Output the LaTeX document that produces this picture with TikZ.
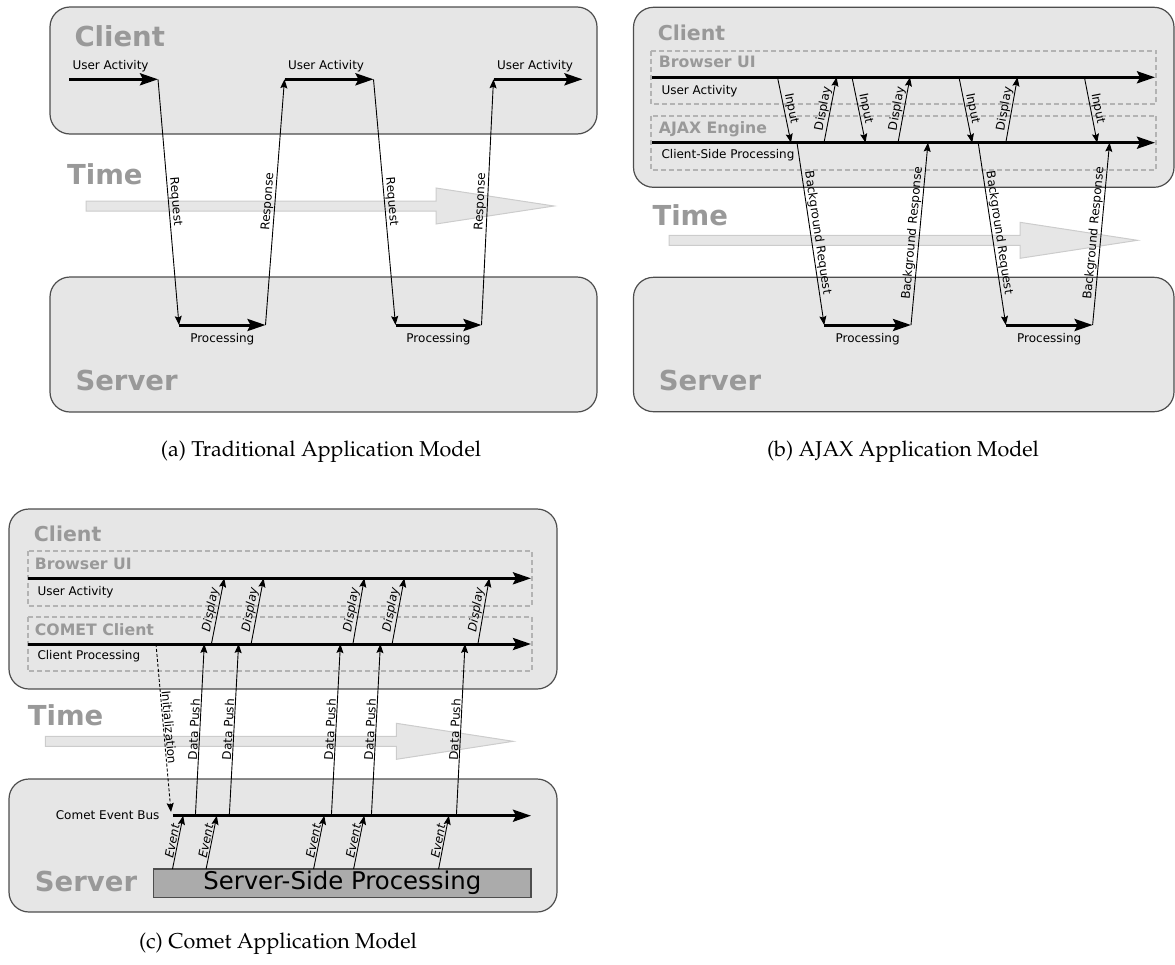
\documentclass[tikz,border=0pt]{standalone}
\usepackage[T1]{fontenc}
\usepackage{fontspec}
\setsansfont{DejaVu Sans}
\usetikzlibrary{arrows.meta}

\definecolor{boxfill}{HTML}{E6E6E6}
\definecolor{boxline}{HTML}{4D4D4D}
\definecolor{titlegray}{HTML}{999999}
\definecolor{lanegray}{HTML}{B3B3B3}
\definecolor{timeline}{HTML}{CCCCCC}
\definecolor{sspfill}{HTML}{ABABAB}
\newcommand{\setfs}[1]{\fontsize{#1}{#1}\selectfont}
\newcommand{\capfont}{\fontencoding{T1}\fontfamily{ppl}\selectfont}

\begin{document}
\begin{tikzpicture}[x=1pt, y=-1pt,
   tierbox/.style={draw=boxline, fill=boxfill, line width=1.2pt, rounded corners=20pt},
   lanebox/.style={draw=lanegray, line width=2pt, dash pattern=on 5pt off 3pt},
   timearrow/.style={draw=timeline, fill=boxfill, line width=1pt},
   flowarrow/.style={line width=3pt, -{Stealth[length=18pt, width=12pt, inset=3pt]}},
   msgarrow/.style={line width=0.9pt, -{Stealth[length=9pt, width=7pt, inset=1.5pt]}},
   tiername/.style={anchor=base west, text=titlegray, font=\sffamily\bfseries\setfs{27.5pt}},
   smalltier/.style={tiername, font=\sffamily\bfseries\setfs{20.5pt}},
   lanename/.style={tiername, font=\sffamily\bfseries\setfs{15.7pt}},
   lbltext/.style={font=\sffamily\setfs{12pt}},
   onarrow/.style={lbltext, sloped, above, inner sep=0.8pt, pos=0.5},
   slantlbl/.style={onarrow, font=\sffamily\itshape\setfs{12pt}},
   subcap/.style={anchor=base, font=\capfont\setfs{21.5pt}}]
   \useasboundingbox (0,0) rectangle (1175,964);

   % (a) traditional model
   \draw[tierbox] (50,7) rectangle (597,134);
   \draw[tierbox] (50,277) rectangle (597,412);
   \node[tiername] (clientA) at (71,46.7) {Client};
   \node[tiername] (timeA) at (63.6,184.3) {Time};
   \node[tiername] (serverA) at (72,390) {Server};
   \draw[timearrow] (86,201) -- (436,201) -- (436,188) -- (554,206) -- (436,224) -- (436,211) -- (86,211) -- cycle;

   \coordinate (uaA1) at (69,79.3);    \coordinate (uaA1e) at (158,79.3);
   \coordinate (prA1) at (179,325);    \coordinate (prA1e) at (265.5,325);
   \coordinate (uaA2) at (284.5,79.3); \coordinate (uaA2e) at (373.5,79.3);
   \coordinate (prA2) at (395.5,325);  \coordinate (prA2e) at (481.5,325);
   \coordinate (uaA3) at (493.5,79.3); \coordinate (uaA3e) at (582.5,79.3);

   \draw[flowarrow] (uaA1) -- (uaA1e);
   \draw[msgarrow] (uaA1e) -- node[onarrow] (reqA1) {Request} (prA1);
   \draw[flowarrow] (prA1) -- (prA1e);
   \draw[msgarrow] (prA1e) -- node[onarrow] (resA1) {Response} (uaA2);
   \draw[flowarrow] (uaA2) -- (uaA2e);
   \draw[msgarrow] (uaA2e) -- node[onarrow] (reqA2) {Request} (prA2);
   \draw[flowarrow] (prA2) -- (prA2e);
   \draw[msgarrow] (prA2e) -- node[onarrow] (resA2) {Response} (uaA3);
   \draw[flowarrow] (uaA3) -- (uaA3e);

   \node[lbltext, anchor=base west] (uaLA1) at (69,69.3) {User Activity};
   \node[lbltext, anchor=base west] (uaLA2) at (284.5,69.3) {User Activity};
   \node[lbltext, anchor=base west] (uaLA3) at (493.5,69.3) {User Activity};
   \node[lbltext, anchor=base] (prLA1) at (222.3,342.7) {Processing};
   \node[lbltext, anchor=base] (prLA2) at (438.5,342.7) {Processing};
   \node[subcap] (capA) at (321,456) {(a) Traditional Application Model};

   % (b) ajax model
   \draw[tierbox] (633.5,7.3) rectangle (1174,187.3);
   \draw[tierbox] (633.5,277.3) rectangle (1174,411.7);
   \draw[lanebox] (651.2,50.7) rectangle (1156.3,104);
   \draw[lanebox] (651.2,115.7) rectangle (1156.3,170);
   \node[smalltier] (clientB) at (654.3,40) {Client};
   \node[lanename] (uiNameB) at (655.4,67.7) {Browser UI};
   \node[lanename] (ajNameB) at (655.4,133.3) {AJAX Engine};
   \node[tiername] (timeB) at (649,225) {Time};
   \node[tiername] (serverB) at (655.4,390) {Server};
   \draw[timearrow] (669,235.3) -- (1020,235.3) -- (1020,222.3) -- (1137.5,240.3) -- (1020,258.3) -- (1020,245.3) -- (669,245.3) -- cycle;

   \coordinate (uiB) at (652,77.3);  \coordinate (uiBe) at (1155,77.3);
   \coordinate (ajB) at (652,142.7); \coordinate (ajBe) at (1155,142.7);
   \draw[flowarrow] (uiB) -- (uiBe);
   \draw[flowarrow] (ajB) -- (ajBe);
   \node[lbltext, anchor=base west] (uaLB) at (658,94.3) {User Activity};
   \node[lbltext, anchor=base west] (csLB) at (658,158.3) {Client-Side Processing};

   \foreach \k/\xa/\xb in {1/777.5/791, 2/852/865.5, 3/959/972.2, 4/1084.4/1097.2}{
      \coordinate (inS\k) at (\xa,77.3);
      \coordinate (inT\k) at (\xb,142.7);
      \draw[msgarrow] (inS\k) -- node[onarrow] (inL\k) {Input} (inT\k);
   }
   \foreach \k/\xa/\xb in {1/824/836.6, 2/898/910, 3/1005.8/1017.5}{
      \coordinate (diS\k) at (\xa,142.7);
      \coordinate (diT\k) at (\xb,77.3);
      \draw[msgarrow] (diS\k) -- node[onarrow] (diL\k) {Display} (diT\k);
   }

   \coordinate (brB1) at (797,142.7);   \coordinate (prB1) at (824.2,325);
   \coordinate (prB1e) at (911,325);    \coordinate (rsB1) at (928,142.7);
   \coordinate (brB2) at (978.2,142.7); \coordinate (prB2) at (1005.8,325);
   \coordinate (prB2e) at (1092.6,325); \coordinate (rsB2) at (1109.6,142.7);
   \draw[msgarrow] (brB1) -- node[onarrow] (bqL1) {Background Request} (prB1);
   \draw[flowarrow] (prB1) -- (prB1e);
   \draw[msgarrow] (prB1e) -- node[onarrow] (bsL1) {Background Response} (rsB1);
   \draw[msgarrow] (brB2) -- node[onarrow] (bqL2) {Background Request} (prB2);
   \draw[flowarrow] (prB2) -- (prB2e);
   \draw[msgarrow] (prB2e) -- node[onarrow] (bsL2) {Background Response} (rsB2);
   \node[lbltext, anchor=base] (prLB1) at (867.6,342.7) {Processing};
   \node[lbltext, anchor=base] (prLB2) at (1049.2,342.7) {Processing};
   \node[subcap] (capB) at (903,456) {(b) AJAX Application Model};

   % (c) comet model
   \draw[tierbox] (9,509) rectangle (557,689);
   \draw[tierbox] (9,779) rectangle (557,912);
   \draw[lanebox] (27.5,551) rectangle (532,605.7);
   \draw[lanebox] (27.5,616.7) rectangle (532,671);
   \node[smalltier] (clientC) at (30.4,541) {Client};
   \node[lanename] (uiNameC) at (31.4,569) {Browser UI};
   \node[lanename] (cmNameC) at (31.4,635) {COMET Client};
   \node[tiername] (timeC) at (24.3,725) {Time};
   \node[tiername] (serverC) at (31.4,891.7) {Server};
   \draw[timearrow] (45.4,736.3) -- (396.4,736.3) -- (396.4,723.3) -- (513.2,741.3) -- (396.4,759.3) -- (396.4,746.3) -- (45.4,746.3) -- cycle;

   \node[draw=boxline, fill=sspfill, line width=1.2pt, minimum width=377.4pt, minimum height=28.3pt,
         inner sep=0pt, font=\sffamily\setfs{24.4pt}] (sspC) at (342.3,883.2) {Server-Side Processing};

   \coordinate (uiC) at (28,578.3);  \coordinate (uiCe) at (531,578.3);
   \coordinate (cmC) at (28,644);    \coordinate (cmCe) at (531,644);
   \coordinate (busC) at (172.5,815.7); \coordinate (busCe) at (531,815.7);
   \draw[flowarrow] (uiC) -- (uiCe);
   \draw[flowarrow] (cmC) -- (cmCe);
   \draw[flowarrow] (busC) -- (busCe);
   \node[lbltext, anchor=base west] (uaLC) at (34,595.3) {User Activity};
   \node[lbltext, anchor=base west] (cpLC) at (34,659.3) {Client Processing};
   \node[lbltext, anchor=base east] (busLC) at (163,819.3) {Comet Event Bus};

   \coordinate (initS) at (156,644);
   \coordinate (initT) at (171,812);
   \draw[msgarrow, dash pattern=on 3pt off 2pt] (initS) -- node[onarrow] (initL) {Initialization} (initT);

   \foreach \k/\ea/\eb/\pa/\pb/\da/\db in {1/172.5/183.2/195.4/204.3/211.4/224.3,
         2/206.1/216.8/229.3/238.6/251.1/263.6, 3/313.6/324.3/331.4/340.4/352.9/364.3,
         4/353.6/364.3/371.4/380.4/392.1/404.3, 5/438.6/448.9/456.4/465/477.9/489.3}{
      \coordinate (evS\k) at (\ea,869);   \coordinate (evT\k) at (\eb,815.7);
      \coordinate (puS\k) at (\pa,815.7); \coordinate (puT\k) at (\pb,644);
      \coordinate (dsS\k) at (\da,644);   \coordinate (dsT\k) at (\db,578.3);
      \draw[msgarrow] (evS\k) -- node[slantlbl] (evL\k) {Event} (evT\k);
      \draw[msgarrow] (puS\k) -- node[onarrow] (puL\k) {Data Push} (puT\k);
      \draw[msgarrow] (dsS\k) -- node[slantlbl] (dsL\k) {Display} (dsT\k);
   }
   \node[subcap] (capC) at (278,948) {(c) Comet Application Model};
\end{tikzpicture}
\end{document}
